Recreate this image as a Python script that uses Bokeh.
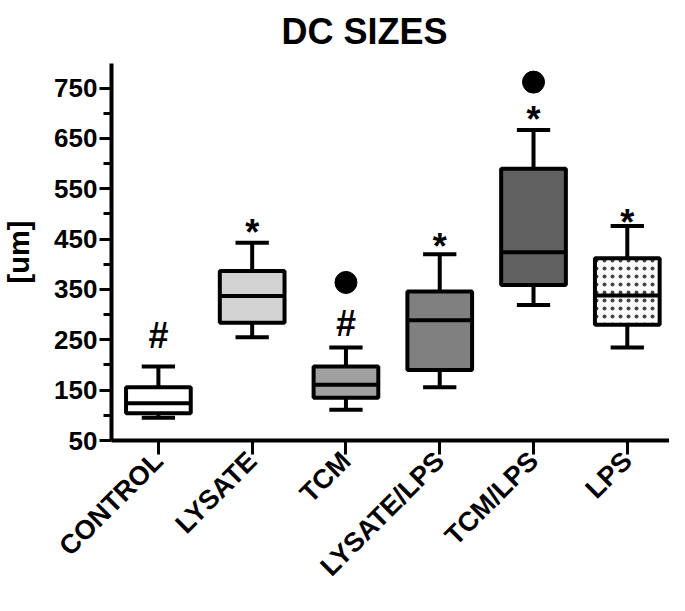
import math
from bokeh.plotting import figure
from bokeh.models import FixedTicker, ColumnDataSource
from bokeh.core.properties import value
from bokeh.embed import file_html
from bokeh.resources import INLINE

title_text = "DC SIZES"
y_label = "[um]"
categories = ["CONTROL", "LYSATE", "TCM", "LYSATE/LPS", "TCM/LPS", "LPS"]
whisker_low = [95, 255, 111, 156, 319, 235]
q1 = [104, 284, 135, 190, 359, 280]
median = [124, 337, 161, 289, 424, 338]
q3 = [156, 387, 197, 346, 590, 412]
whisker_high = [197, 443, 235, 420, 667, 476]
fills = ["#ffffff", "#d3d3d3", "#a0a0a0", "#808080", "#606060", "#ffffff"]
sig_marks = ["#", "*", "#", "*", "*", "*"]
sig_y = [258, 464, 283, 436, 687, 484]
dot_cats = ["TCM", "TCM/LPS"]
dot_y = [364, 762]
y_ticks = [50, 150, 250, 350, 450, 550, 650, 750]
y_minor = [100, 200, 300, 400, 500, 600, 700]

FONT = "Liberation Sans"
xs = list(range(len(categories)))
BOX_W = 0.69
CAP_W = 0.355
Y0, Y1 = 50, 799

p = figure(width=669, height=595, x_range=(-0.5, 5.45), y_range=(Y0, Y1),
           output_backend="svg", toolbar_location=None,
           min_border_left=99, min_border_right=0, min_border_top=62,
           min_border_bottom=155)
p.xgrid.visible = False
p.ygrid.visible = False
p.outline_line_color = None

src = ColumnDataSource(dict(x=xs, lo=whisker_low, q1=q1, med=median, q3=q3,
                            hi=whisker_high, fill=fills,
                            cl=[x - CAP_W / 2 for x in xs], cr=[x + CAP_W / 2 for x in xs],
                            bl=[x - BOX_W / 2 for x in xs], br=[x + BOX_W / 2 for x in xs]))

# whiskers
p.segment(x0="x", y0="q3", x1="x", y1="hi", source=src, line_width=4, line_color="black")
p.segment(x0="x", y0="lo", x1="x", y1="q1", source=src, line_width=4, line_color="black")
p.segment(x0="cl", y0="hi", x1="cr", y1="hi", source=src, line_width=4, line_color="black")
p.segment(x0="cl", y0="lo", x1="cr", y1="lo", source=src, line_width=4, line_color="black")

# boxes
plain = ColumnDataSource(dict(x=xs[:-1], q1=q1[:-1], q3=q3[:-1], fill=fills[:-1]))
p.vbar(x="x", bottom="q1", top="q3", width=BOX_W, source=plain, fill_color="fill",
       line_color="black", line_width=4)
dotted = ColumnDataSource(dict(x=xs[-1:], q1=q1[-1:], q3=q3[-1:]))
p.vbar(x="x", bottom="q1", top="q3", width=BOX_W, source=dotted, fill_color="white",
       line_color="black", line_width=4, hatch_pattern="dot", hatch_color="#444444",
       hatch_scale=8, hatch_weight=0.9)
p.segment(x0="bl", y0="med", x1="br", y1="med", source=src, line_width=4, line_color="black")

# significance marks
p.text(x=xs, y=sig_y, text=sig_marks, text_align="center", text_baseline="middle",
       text_font=value(FONT), text_font_style="bold", text_font_size="36px",
       text_color="black")
p.scatter(x=[categories.index(c) for c in dot_cats], y=dot_y, size=22, color="black")

# axes
xax = p.xaxis[0]
xax.ticker = FixedTicker(ticks=xs)
xax.major_label_overrides = {i: c for i, c in zip(xs, categories)}
xax.major_label_orientation = math.pi / 4
xax.major_label_standoff = 2
xax.major_label_text_font = FONT
xax.major_label_text_font_style = "bold"
xax.major_label_text_font_size = "27px"
xax.major_label_text_color = "black"
xax.minor_tick_line_color = None
xax.major_tick_out = 14

yax = p.yaxis[0]
yax.ticker = FixedTicker(ticks=y_ticks, minor_ticks=y_minor)
yax.minor_tick_line_width = 3
yax.minor_tick_in = 0
yax.minor_tick_line_color = "black"
yax.major_tick_out = 12
yax.minor_tick_out = 8
yax.major_label_text_font = FONT
yax.major_label_text_font_style = "bold"
yax.major_label_text_font_size = "26px"
yax.major_label_text_color = "black"
yax.major_label_standoff = 2
yax.axis_label = y_label
yax.axis_label_text_font = FONT
yax.axis_label_text_font_style = "bold"
yax.axis_label_text_font_size = "29px"
yax.axis_label_text_color = "black"
yax.axis_label_standoff = 16
for ax in (xax, yax):
    ax.axis_line_width = 4
    ax.axis_line_color = "black"
    ax.major_tick_line_width = 3
    ax.major_tick_line_color = "black"
    ax.major_tick_in = 0

p.title.text = title_text
p.title.text_font = FONT
p.title.text_font_style = "bold"
p.title.text_font_size = "36px"
p.title.text_color = "black"
p.title.align = "left"
p.title.offset = 170
p.title.vertical_align = "top"
p.title.standoff = 20

open("out.html", "w").write(file_html(p, INLINE))
